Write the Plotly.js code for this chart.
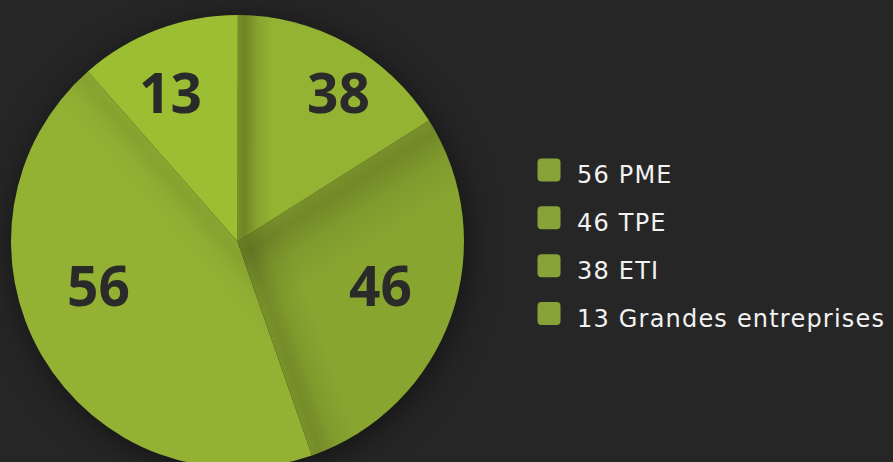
<!DOCTYPE html>
<html>
<head>
<meta charset="utf-8">
<script src="https://cdn.plot.ly/plotly-3.0.1.min.js"></script>
<style>
  html, body { margin: 0; padding: 0; background: #262626; overflow: hidden; }
  #chart { width: 893px; height: 475px; }
  .pielayer { filter: drop-shadow(3px 5px 16px rgba(0,0,0,0.5)); }
</style>
</head>
<body>
<div id="chart"></div>
<script>
// Categories in legend order
const categories = ["PME", "TPE", "ETI", "Grandes entreprises"];
// Numbers shown on the chart
const counts = [56, 46, 38, 13];
// Slice shares as drawn in the picture (angles, % of circle)
const shares = [43.8, 28.6, 16.0, 11.5];
// Slice colours
const sliceColors = ["#93b234", "#88a530", "#94b333", "#9bbe32"];
// Where each number sits on the picture (pixels)
const labelPos = [[98, 284], [380, 284], [338, 91], [170, 91]];

const W = 893, H = 475;
const ROT = 160.8;

const legendLabels = categories.map((c, i) =>
  '<span style="font-size:24px;letter-spacing:1.2px">' + counts[i] + ' ' + c + '</span>');

const trace = {
  type: 'pie',
  labels: legendLabels,
  values: shares,
  textinfo: 'none',
  marker: { colors: sliceColors, line: { width: 0 } },
  sort: false,
  direction: 'counterclockwise',
  rotation: ROT,
  hoverinfo: 'skip',
  domain: { x: [11/W, 464/W], y: [7/H, 460/H] }
};

const annotations = counts.map((v, i) => ({
  xref: 'paper', yref: 'paper',
  x: labelPos[i][0] / W, y: 1 - labelPos[i][1] / H,
  xanchor: 'center', yanchor: 'middle',
  text: String(v), showarrow: false,
  font: { family: 'Open Sans, sans-serif', size: 55, color: '#2a2a2a', weight: 700 }
}));

const layout = {
  width: W,
  height: H,
  margin: { l: 0, r: 0, t: 0, b: 0 },
  paper_bgcolor: '#262626',
  plot_bgcolor: '#262626',
  showlegend: true,
  annotations: annotations,
  legend: {
    x: 528/W, xanchor: 'left',
    y: 1 - 141/H, yanchor: 'top',
    font: { family: 'DejaVu Sans, sans-serif', size: 34.5, color: '#f2f2f2' },
    bgcolor: 'rgba(0,0,0,0)',
    itemwidth: 39,
    itemclick: false,
    itemdoubleclick: false
  }
};

// slice edges (degrees clockwise from 12 o'clock), derived from the shares
function sliceEdges() {
  const tot = shares.reduce((a, b) => a + b, 0);
  const deg = shares.map(s => s / tot * 360);
  const out = [[ROT, ROT + deg[0]]];
  let cur = ROT;
  for (let i = 1; i < deg.length; i++) { out.push([cur - deg[i], cur]); cur -= deg[i]; }
  return out; // [ccwEdge, cwEdge]
}

const gd = document.getElementById('chart');
Plotly.newPlot(gd, [trace], layout, { displayModeBar: false, staticPlot: true }).then(() => {
  // Rounded, larger legend swatches
  document.querySelectorAll('path.legendpie').forEach(p => {
    p.setAttribute('d', 'M-11,-11.5H4A4,4 0 0 1 8,-7.5V7.5A4,4 0 0 1 4,11.5H-11A4,4 0 0 1 -15,7.5V-7.5A4,4 0 0 1 -11,-11.5Z');
    p.style.fill = '#87a338';
  });

  // pie centre in svg coordinates
  const cd0 = gd.calcdata[0][0];
  const cx = cd0.cx, cy = cd0.cy;

  // Soft folded-paper shadows along slice edges
  const svg = gd.querySelector('.main-svg');
  const NS = 'http://www.w3.org/2000/svg';
  const defs = svg.querySelector('defs');
  const edges = sliceEdges();
  // [slice index, which edge, width px, max opacity]
  const shadowSpec = [[2, 'ccw', 36, 0.26], [1, 'ccw', 75, 0.17], [1, 'cw', 50, 0.15], [0, 'cw', 45, 0.09]];
  const surfaces = Array.from(gd.querySelectorAll('g.slice path.surface'));
  shadowSpec.forEach((sp, k) => {
    const [idx, side, w, op] = sp;
    const th = (side === 'ccw' ? edges[idx][0] : edges[idx][1]) * Math.PI / 180;
    let nx = Math.cos(th), ny = Math.sin(th);
    if (side === 'cw') { nx = -nx; ny = -ny; }
    const g = document.createElementNS(NS, 'linearGradient');
    g.setAttribute('id', 'shade' + k);
    g.setAttribute('gradientUnits', 'userSpaceOnUse');
    g.setAttribute('x1', cx); g.setAttribute('y1', cy);
    g.setAttribute('x2', cx + nx * w); g.setAttribute('y2', cy + ny * w);
    [[0, op * 0.75], [0.18, op], [0.55, op * 0.35], [1, 0]].forEach(([o, a]) => {
      const s = document.createElementNS(NS, 'stop');
      s.setAttribute('offset', o);
      s.setAttribute('stop-color', '#000');
      s.setAttribute('stop-opacity', a);
      g.appendChild(s);
    });
    defs.appendChild(g);
    const surf = surfaces[idx];
    const clone = surf.cloneNode(true);
    clone.classList.remove('surface');
    clone.style.fill = 'url(#shade' + k + ')';
    clone.style.fillOpacity = 1;
    clone.style.stroke = 'none';
    surf.parentNode.insertBefore(clone, surf.nextSibling);
  });
});
</script>
</body>
</html>
